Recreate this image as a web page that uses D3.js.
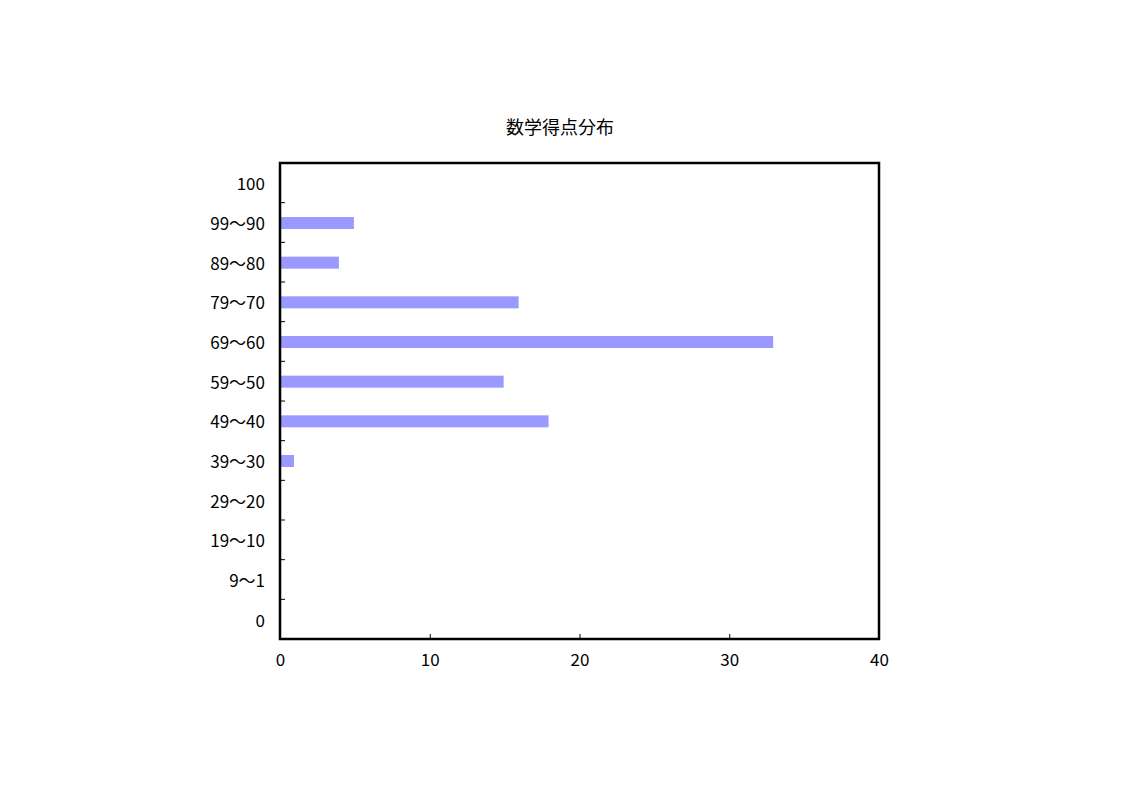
<!DOCTYPE html>
<html><head><meta charset="utf-8">
<script src="https://cdn.jsdelivr.net/npm/d3@7"></script>
<style>body{margin:0;background:#fff}</style>
</head><body>
<svg id="c" width="1123" height="794"></svg>
<script>
const title = "数学得点分布";
const categories = ["100","99〜90","89〜80","79〜70","69〜60","59〜50","49〜40","39〜30","29〜20","19〜10","9〜1","0"];
const counts = [0,5,4,16,33,15,18,1,0,0,0,0];
const xTicks = [0,10,20,30,40];

const svg = d3.select("#c");
const L=280, R=879, T=163, B=639;
const font = "'Noto Sans CJK JP','Noto Sans',sans-serif";

const x = d3.scaleLinear().domain([0,40]).range([L,R]);
const y = d3.scaleBand().domain(categories).range([T,B]);

svg.append("text").attr("x",560).attr("y",134).attr("text-anchor","middle")
  .attr("font-family",font).attr("font-size",18).text(title);

// bars
const bh = 12;
svg.append("g").selectAll("rect").data(categories.map((c,i)=>({c,v:counts[i]})).filter(d=>d.v>0))
  .enter().append("rect")
  .attr("x",x(0)+1).attr("y",d=>y(d.c)+y.bandwidth()/2-bh/2+0.5)
  .attr("width",d=>x(d.v)-x(0)-2).attr("height",bh)
  .attr("fill","#9999ff");

// y axis ticks at band boundaries (inside)
const bounds = categories.slice(1).map(c=>y(c));
svg.append("g").selectAll("line").data(bounds).enter().append("line")
  .attr("x1",L).attr("x2",L+5).attr("y1",d=>d).attr("y2",d=>d)
  .attr("stroke","#000").attr("stroke-width",1);

// y labels
svg.append("g").selectAll("text").data(categories).enter().append("text")
  .attr("x",265).attr("y",d=>y(d)+y.bandwidth()/2+1.5).attr("dy","0.35em")
  .attr("text-anchor","end").attr("font-family",font).attr("font-size",17).text(d=>d);

// x axis
const xa = svg.append("g").attr("transform",`translate(0,${B})`)
  .call(d3.axisBottom(x).tickValues(xTicks).tickSize(-5).tickPadding(15).tickFormat(d3.format("d")));
xa.select(".domain").remove();
xa.selectAll("line").attr("stroke","#000");
xa.selectAll("text").attr("font-family",font).attr("font-size",17).attr("fill","#000");

// frame
svg.append("rect").attr("x",L).attr("y",T).attr("width",R-L).attr("height",B-T)
  .attr("fill","none").attr("stroke","#000").attr("stroke-width",2.5);
</script>
</body></html>
